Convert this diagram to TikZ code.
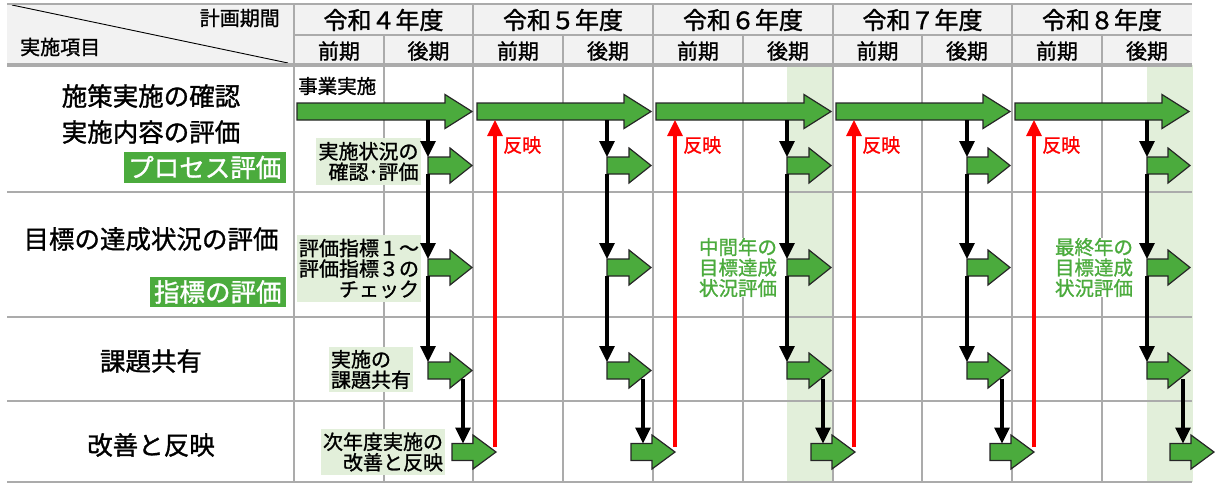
\documentclass[tikz,border=0pt]{standalone}
\usepackage{fontspec}
\setmainfont{Noto Sans CJK JP}[FakeBold=1.2]
\usetikzlibrary{arrows.meta}
\definecolor{garrow}{HTML}{4BAB3D}
\definecolor{lgreen}{HTML}{E2EFDA}
\definecolor{gridgray}{HTML}{ABABAB}
\definecolor{headfill}{HTML}{F2F2F2}
\newcommand\fsz[2]{\fontsize{#1}{#2}\selectfont}
% block arrow: x1, xtip, ycenter, head length, head half height, body half height
\newcommand\myblock[6]{%
  \draw[blockarr] (#1,{#3-#6}) -- ({#2-#4},{#3-#6}) -- ({#2-#4},{#3-#5}) -- (#2,#3)
    -- ({#2-#4},{#3+#5}) -- ({#2-#4},{#3+#6}) -- (#1,{#3+#6}) -- cycle;}
\begin{document}
\begin{tikzpicture}[x=1pt,y=-1pt,
  gridline/.style={draw=gridgray, line width=2pt},
  blockarr/.style={fill=garrow, draw=black!85, line width=1.2pt, line join=miter},
  blk/.style={draw=black, line width=3.2pt, -{Triangle[width=15pt,length=16pt]}},
  redarr/.style={draw=red, line width=3.2pt, -{Triangle[width=15pt,length=16pt]}},
  tbox/.style={fill=lgreen, inner sep=0pt, font=\fsz{20}{20.5}},
  glabel/.style={fill=garrow, text=white, inner sep=0pt, font=\fsz{25.5}{28}},
  rowlbl/.style={inner sep=0pt, font=\fsz{25.5}{28}},
  gtext/.style={fill=white, text=garrow, inner sep=0pt, align=center, font=\fsz{19.5}{20.5}},
  redlbl/.style={text=red, inner sep=0pt, font=\fsz{19}{20}},
  yearlbl/.style={inner sep=0pt, font=\fsz{24}{26}},
  halflbl/.style={inner sep=0pt, font=\fsz{21}{23}},
  headlbl/.style={inner sep=0pt, font=\fsz{20}{22}}]
\useasboundingbox (0,0) rectangle (1215,483);
% highlight columns
\fill[lgreen] (787,65) rectangle (833,482);
\fill[lgreen] (1147,65) rectangle (1193,482);
% header
\fill[headfill] (7,4) rectangle (1192,65);
\draw[black, line width=0.9pt] (12,5) -- (288,63);
% grid
\foreach \x in {294,473,653,833,1012} \draw[gridline] (\x,4) -- (\x,482);
\foreach \x in {384,563,743,922,1102} \draw[gridline] (\x,35) -- (\x,482);
\draw[gridline] (294,35) -- (1192,35);
\foreach \y in {192,317,401,481.5} \draw[gridline] (7,\y) -- (1192,\y);
\draw[draw=gridgray, line width=2.6pt] (7,4) -- (1192,4);
\draw[draw=gridgray, line width=3.5pt] (7,65) -- (1192,65);
% header texts
\node[headlbl, anchor=east] (kikan) at (280,18) {計画期間};
\node[headlbl, anchor=west] (komoku) at (20,47) {実施項目};
\foreach \x/\t [count=\i] in {383.5/令和４年度, 563/令和５年度, 743/令和６年度, 922.5/令和７年度, 1102/令和８年度}
  \node[yearlbl] (year\i) at (\x,20) {\t};
\foreach \x/\t [count=\i] in {339/前期, 428.5/後期, 518/前期, 608/後期, 698/前期, 788/後期, 877.5/前期, 967/後期, 1057/前期, 1147/後期}
  \node[halflbl] (half\i) at (\x,51) {\t};
% row labels
\node[rowlbl] (r1a) at (151,96) {施策実施の確認};
\node[rowlbl] (r1b) at (151,132) {実施内容の評価};
\node[glabel, anchor=east, minimum width=162pt, minimum height=31pt] (g1) at (286,167.5) {プロセス評価};
\node[rowlbl] (r2a) at (151,239) {目標の達成状況の評価};
\node[glabel, anchor=east, minimum width=136pt, minimum height=30pt] (g2) at (286,292) {指標の評価};
\node[rowlbl] (r3) at (151,361) {課題共有};
\node[rowlbl] (r4) at (151,445) {改善と反映};
% inner text boxes
\node[inner sep=1pt, anchor=west, font=\fsz{19.5}{20}] (jigyo) at (297,86) {事業実施};
\node[tbox, align=right, minimum width=105pt, minimum height=47pt] (b1) at (368.5,161.5) {実施状況の\\確認･評価};
\node[tbox, align=right, minimum width=124pt, minimum height=67pt] (b2) at (359,268.5) {評価指標１～\\評価指標３の\\チェック};
\node[tbox, align=left, minimum width=84pt, minimum height=45pt] (b3) at (371,369.5) {実施の\\課題共有};
\node[tbox, align=right, minimum width=124pt, minimum height=46pt] (b4) at (383,452) {次年度実施の\\改善と反映};
\node[gtext] (mid) at (738,267.5) {中間年の\\目標達成\\状況評価};
\node[gtext] (fin) at (1094,267.5) {最終年の\\目標達成\\状況評価};
% big arrows (事業実施)
\myblock{297}{472}{111.5}{27}{17}{8.5}
\myblock{477}{651}{111.5}{27}{17}{8.5}
\myblock{656}{831}{111.5}{27}{17}{8.5}
\myblock{836}{1010}{111.5}{27}{17}{8.5}
\myblock{1015}{1189}{111.5}{27}{17}{8.5}
% per-year small arrows and connectors
\foreach \v/\t/\w [count=\i] in {428/472/463, 607/651/643, 787/831/823, 967/1010/1002, 1147/1190/1183}{
  \myblock{\v}{\t}{165.5}{22}{17.5}{8.5}
  \myblock{\v}{\t}{267.5}{22}{17.5}{8.5}
  \myblock{\v}{\t}{370.5}{22}{17.5}{8.5}
  \myblock{\t-20}{\t+24}{452}{23}{17}{8.5}
  \coordinate (top\i) at (\v,120);
  \coordinate (s1t\i) at (\v,157);
  \coordinate (s1b\i) at (\v,174);
  \coordinate (s2t\i) at (\v,259);
  \coordinate (s2b\i) at (\v,276);
  \coordinate (s3t\i) at (\v,362);
  \coordinate (s3b\i) at (\w,379);
  \coordinate (s4t\i) at (\w,443.5);
  \draw[blk] (top\i) -- (s1t\i);
  \draw[blk] (s1b\i) -- (s2t\i);
  \draw[blk] (s2b\i) -- (s3t\i);
  \draw[blk] (s3b\i) -- (s4t\i);
}
% red feedback arrows
\foreach \r [count=\i] in {495,675,854,1034}{
  \coordinate (rs\i) at (\r,447);
  \coordinate (re\i) at (\r,120);
  \draw[redarr] (rs\i) -- (re\i);
  \node[redlbl, anchor=west] (rl\i) at (\r+8,145) {反映};
}
\end{tikzpicture}
\end{document}
